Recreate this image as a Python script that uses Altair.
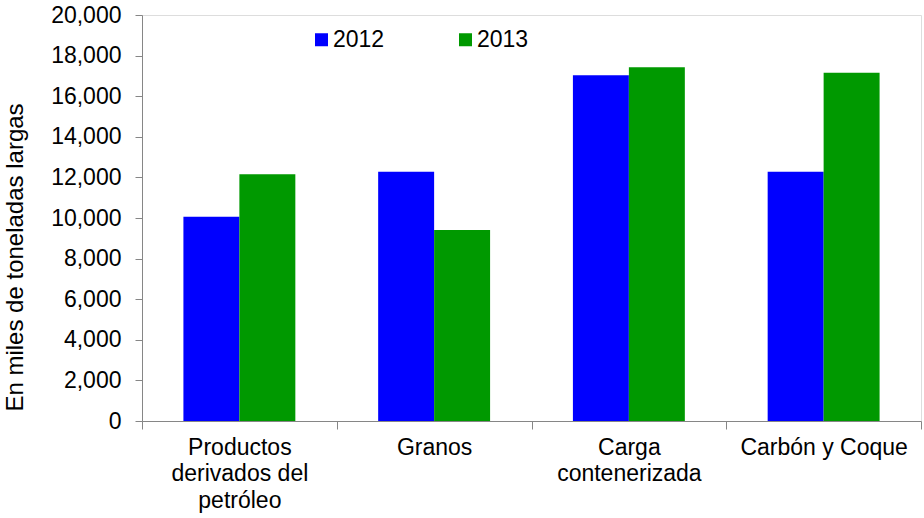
import altair as alt
import pandas as pd

categories = ["Productos\nderivados del\npetróleo", "Granos", "Carga\ncontenerizada", "Carbón y Coque"]
years = ["2012", "2013"]
values_2012 = [10060, 12280, 17030, 12280]
values_2013 = [12150, 9410, 17420, 17160]

rows = []
for c, v1, v2 in zip(categories, values_2012, values_2013):
    rows.append({"cat": c, "year": "2012", "value": v1})
    rows.append({"cat": c, "year": "2013", "value": v2})
df = pd.DataFrame(rows)

FONT = "Liberation Sans"
FS = 23
AXIS_GRAY = "#868686"

chart = alt.Chart(df).mark_bar().encode(
    x=alt.X("cat:N", sort=categories,
            scale=alt.Scale(paddingInner=0, paddingOuter=0),
            axis=alt.Axis(title=None, labelAngle=0, labelFontSize=FS, labelFont=FONT,
                          labelColor="black", labelExpr="split(datum.label, '\\n')",
                          labelLineHeight=26.5, labelPadding=7, tickBand="extent",
                          tickSize=8, tickColor=AXIS_GRAY, domainColor=AXIS_GRAY,
                          labelBaseline="top")),
    xOffset=alt.XOffset("year:N", scale=alt.Scale(paddingInner=0, paddingOuter=0.74)),
    y=alt.Y("value:Q", scale=alt.Scale(domain=[0, 20000], nice=False),
            axis=alt.Axis(title="En miles de toneladas largas", values=list(range(0, 20001, 2000)),
                          format=",.0f", grid=False, labelFontSize=FS, labelFont=FONT,
                          labelColor="black", labelPadding=14, tickSize=7,
                          tickColor=AXIS_GRAY, domainColor=AXIS_GRAY,
                          titleFontSize=24, titleFont=FONT, titleFontWeight="normal",
                          titleColor="black", titlePadding=23, titleY=242)),
    color=alt.Color("year:N", scale=alt.Scale(domain=years, range=["#0000FF", "#009900"]),
                    legend=alt.Legend(title=None, orient="none", legendX=168, legendY=13,
                                      direction="horizontal", symbolType="square",
                                      symbolSize=169, symbolStrokeWidth=0, labelFontSize=FS,
                                      labelFont=FONT, labelColor="black", columnPadding=69,
                                      labelOffset=0)),
).properties(
    width=779, height=406,
    autosize=alt.AutoSizeParams(type="none"),
    padding={"left": 142, "top": 15, "right": 3, "bottom": 97},
).configure_view(stroke=None).configure(background="white")

chart.save("out.html", embed_options={"renderer": "svg", "actions": False})
